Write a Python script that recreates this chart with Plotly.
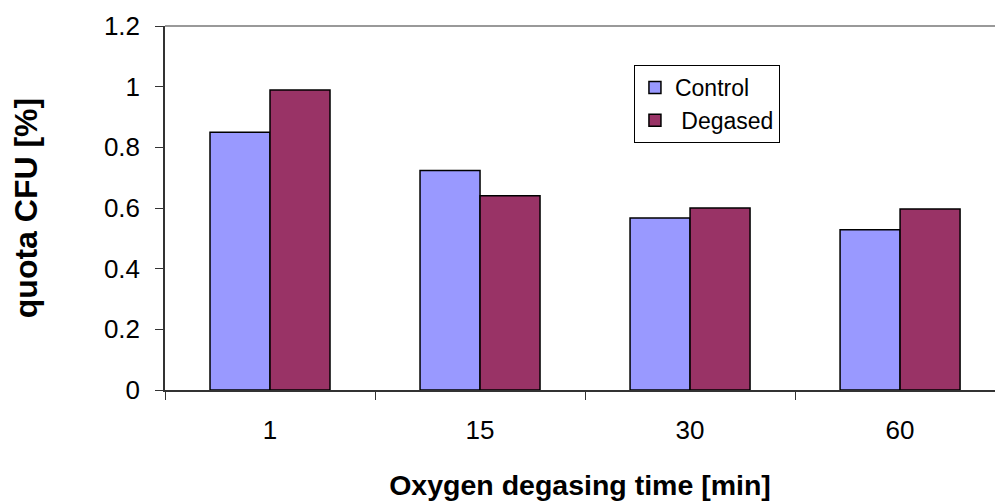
import plotly.graph_objects as go

categories = ["1", "15", "30", "60"]
control = [0.85, 0.724, 0.567, 0.528]
degased = [0.989, 0.640, 0.600, 0.597]
y_ticks = [0, 0.2, 0.4, 0.6, 0.8, 1, 1.2]
y_tick_text = ["0", "0.2", "0.4", "0.6", "0.8", "1", "1.2"]

FONT = "Liberation Sans, Arial, sans-serif"

fig = go.Figure()
fig.add_trace(go.Bar(name="Control", x=categories, y=control,
                     marker=dict(color="#9999FF", line=dict(color="black", width=1.5))))
fig.add_trace(go.Bar(name=" Degased", x=categories, y=degased,
                     marker=dict(color="#993366", line=dict(color="black", width=1.5))))

fig.update_layout(
    width=995, height=501,
    margin=dict(l=165, r=0, t=26, b=111),
    paper_bgcolor="white", plot_bgcolor="white",
    barmode="group", bargap=0.4286, bargroupgap=0,
    font=dict(family=FONT, size=26, color="black"),
    showlegend=True,
    legend=dict(x=0.565, y=0.893, xanchor="left", yanchor="top",
                bordercolor="black", borderwidth=1, bgcolor="white",
                font=dict(size=23), tracegroupgap=0, itemwidth=30),
    xaxis=dict(type="category", range=[-0.5, 3.452], showline=True,
               linecolor="#333333", linewidth=1.5, ticks="outside",
               tickson="boundaries", ticklen=8, tickcolor="#333333",
               showgrid=False, tickfont=dict(size=26), ticklabelstandoff=16,
               title=dict(text="<b>Oxygen degasing time [min]</b>",
                          font=dict(size=28.5), standoff=32)),
    yaxis=dict(range=[0, 1.2], tickvals=y_ticks, ticktext=y_tick_text,
               showline=True, linecolor="#333333", linewidth=1.5,
               ticks="outside", ticklen=8, tickcolor="#333333",
               showgrid=False, zeroline=False, tickfont=dict(size=26),
               ticklabelstandoff=10,
               title=dict(text="<b>quota CFU [%]</b>", font=dict(size=32),
                          standoff=57)),
    shapes=[dict(type="line", xref="paper", yref="paper", x0=0, x1=1,
                 y0=1, y1=1, line=dict(color="#999999", width=2))],
)

fig.write_html("out.html")
